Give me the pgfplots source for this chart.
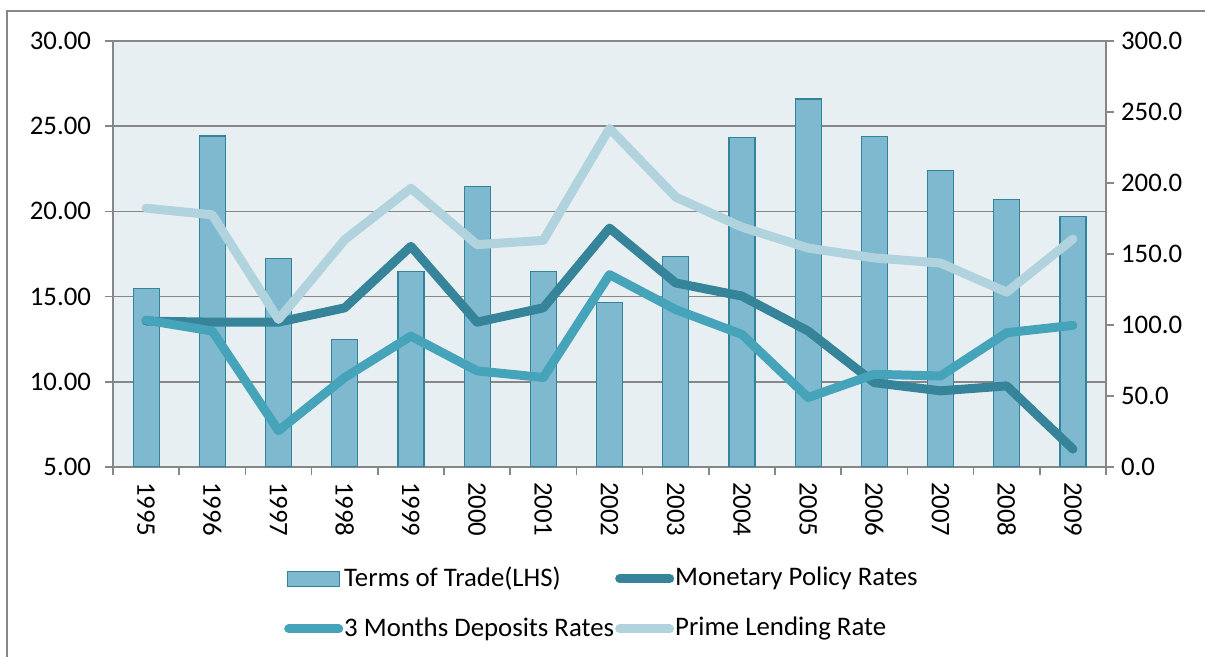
\documentclass[border=0pt]{standalone}
\usepackage{pgfplots}
\pgfplotsset{compat=1.18}
\usepackage{fontspec}
\setmainfont{Carlito}
\definecolor{mpr}{HTML}{358499}
\definecolor{dep}{HTML}{45A3BA}
\definecolor{plr}{HTML}{B1D3DE}
\definecolor{barfill}{HTML}{7FB9CF}
\definecolor{baredge}{HTML}{31849B}
\definecolor{bg}{HTML}{E8EFF3}
\definecolor{gridc}{HTML}{878787}
\pgfplotsset{
  linelegend/.style={legend image code/.code={\draw[##1] (0.5pt,0pt) -- (25.5pt,0pt);}},
  barlegend/.style={legend image code/.code={\draw[fill=barfill, draw=baredge, line width=0.6pt] (0pt,-3.75pt) rectangle (26pt,3.75pt);}},
}
\begin{document}
\begin{tikzpicture}[x=0.5pt,y=0.5pt,font=\fontsize{13.4}{16}\selectfont]
\useasboundingbox (0,0) rectangle (1205,657);
\draw[gridc, line width=0.75pt] (7,0) -- (7,646) -- (1205,646);
\begin{axis}[at={(56.5pt,95pt)}, anchor=south west, scale only axis,
  width=496.5pt, height=213pt,
  xmin=-0.5, xmax=14.5, ymin=5, ymax=30,
  axis background/.style={fill=bg},
  axis line style={gridc, line width=0.75pt},
  ymajorgrids, grid style={gridc, line width=0.75pt},
  ytick={5,10,...,30}, ytick pos=left,
  yticklabel style={xshift=-3.5pt, /pgf/number format/.cd, fixed, fixed zerofill, precision=2, assume math mode=true},
  xtick={0,...,14}, xtick pos=bottom,
  xticklabels={1995,1996,1997,1998,1999,2000,2001,2002,2003,2004,2005,2006,2007,2008,2009},
  major x tick style={draw=none},
  minor xtick={-0.5,0.5,...,14.5},
  tick align=outside,
  tick style={gridc, line width=0.75pt},
  major tick length=4pt, minor tick length=4pt,
  xticklabel style={rotate=-90, anchor=west, yshift=0pt},
  legend columns=2,
  legend cell align=left,
  legend style={draw=none, fill=none, at={(0.166,-0.222)}, anchor=north west,
    row sep=12.5pt, column sep=0pt, /tikz/every node/.style={inner sep=0.5pt}},
]
\addplot[ybar, bar width=13pt, fill=barfill, draw=baredge, line width=0.6pt, barlegend]
  coordinates {(0,15.49) (1,24.42) (2,17.25) (3,12.49) (4,16.49) (5,21.46) (6,16.47) (7,14.63) (8,17.37) (9,24.35) (10,26.6) (11,24.4) (12,22.4) (13,20.7) (14,19.7)};
\addlegendentry{Terms of Trade(LHS)}
\addplot[mpr, line width=4.5pt, line cap=round, line join=round, mark=none, linelegend]
  coordinates {(0,13.56) (1,13.5) (2,13.5) (3,14.34) (4,17.95) (5,13.5) (6,14.34) (7,19.02) (8,15.8) (9,15.03) (10,12.98) (11,9.95) (12,9.47) (13,9.76) (14,6.05)};
\addlegendentry{Monetary Policy Rates}
\addplot[dep, line width=4.5pt, line cap=round, line join=round, mark=none, linelegend]
  coordinates {(0,13.62) (1,12.98) (2,7.13) (3,10.25) (4,12.68) (5,10.64) (6,10.25) (7,16.29) (8,14.24) (9,12.78) (10,9.08) (11,10.44) (12,10.34) (13,12.88) (14,13.31)};
\addlegendentry{3 Months Deposits Rates}
\addplot[plr, line width=4.5pt, line cap=round, line join=round, mark=none, linelegend]
  coordinates {(0,20.19) (1,19.8) (2,13.66) (3,18.34) (4,21.36) (5,18.05) (6,18.3) (7,24.87) (8,20.84) (9,19.08) (10,17.85) (11,17.27) (12,16.97) (13,15.26) (14,18.38)};
\addlegendentry{Prime Lending Rate}
\end{axis}
\begin{axis}[at={(56.5pt,95pt)}, anchor=south west, scale only axis,
  width=496.5pt, height=213pt,
  xmin=-0.5, xmax=14.5, ymin=0, ymax=300,
  hide x axis, axis y line*=right,
  axis line style={gridc, line width=0.75pt},
  ytick={0,50,...,300},
  yticklabel style={/pgf/number format/.cd, fixed, fixed zerofill, precision=1, assume math mode=true},
  tick align=outside,
  tick style={gridc, line width=0.75pt},
  major tick length=4pt,
]
\end{axis}
\end{tikzpicture}
\end{document}
